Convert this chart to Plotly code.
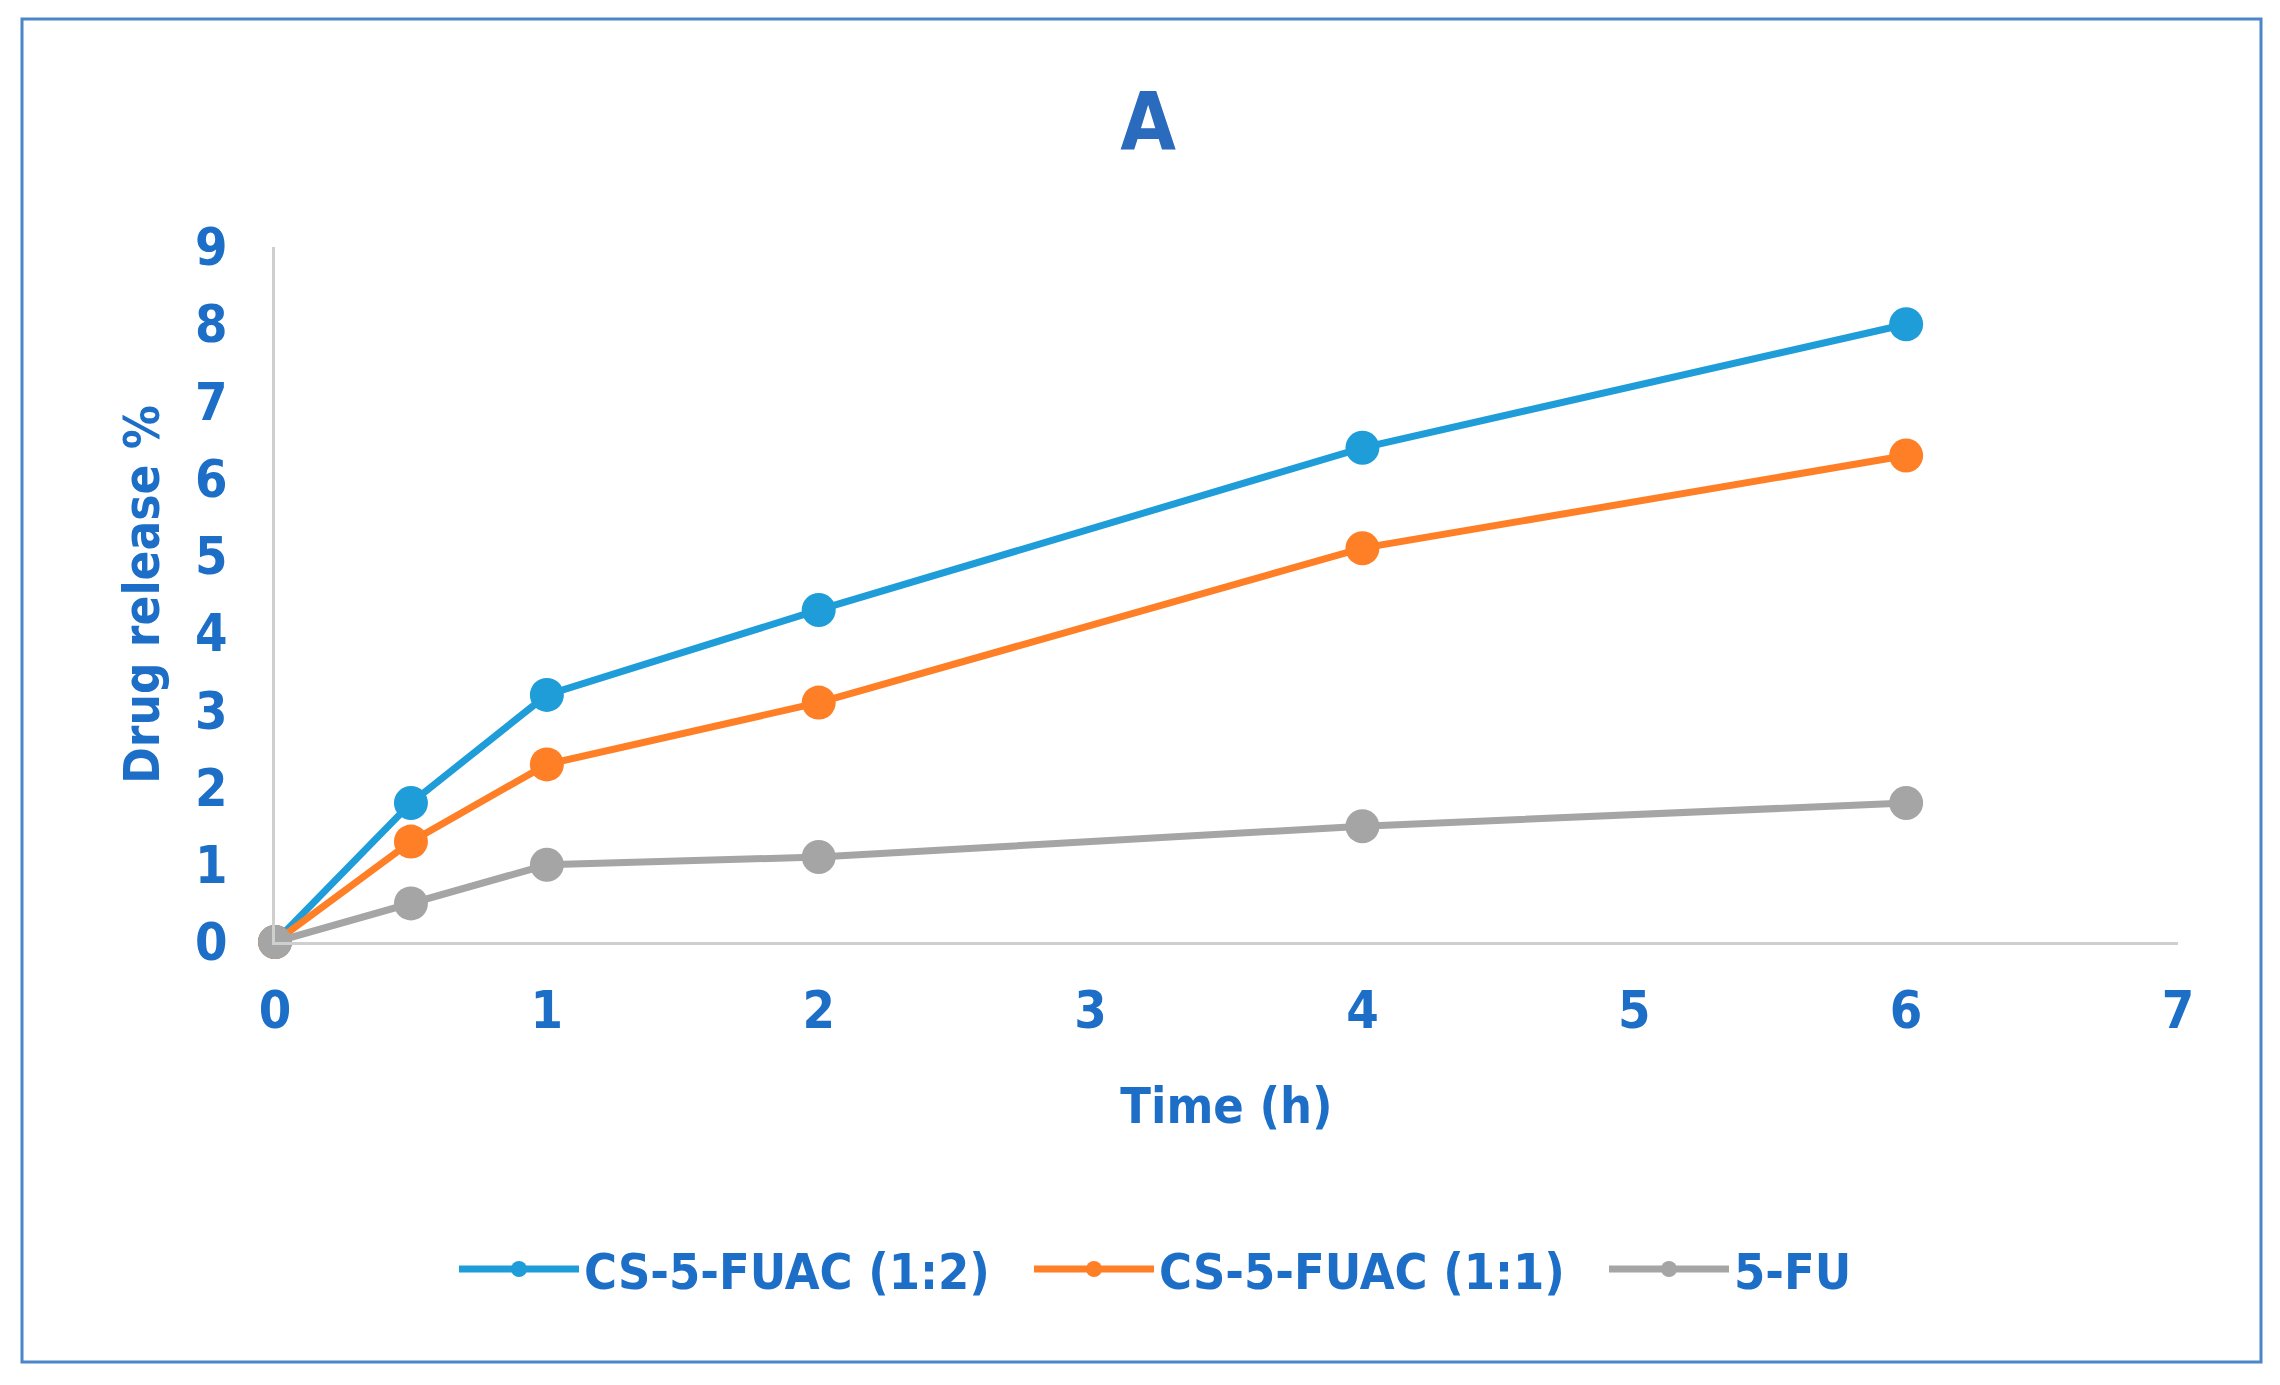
import plotly.graph_objects as go

# data
time_h = [0, 0.5, 1, 2, 4, 6]
release_cs_1_2 = [0, 1.8, 3.2, 4.3, 6.4, 8.0]
release_cs_1_1 = [0, 1.3, 2.3, 3.1, 5.1, 6.3]
release_5fu = [0, 0.5, 1.0, 1.1, 1.5, 1.8]

series_names = ["CS-5-FUAC (1:2)", "CS-5-FUAC (1:1)", "5-FU"]
series_colors = ["#1f9dd9", "#ff7f27", "#a5a5a5"]
x_ticks = [0, 1, 2, 3, 4, 5, 6, 7]
y_ticks = [0, 1, 2, 3, 4, 5, 6, 7, 8, 9]

FONT = "DejaVu Sans Condensed, Liberation Sans Narrow, sans-serif"
TEXT_BLUE = "#1c6ec7"

W, H = 2280, 1385
# page has an 8px body margin, so figure coords = page coords - 8
L, R, T, B = 267, 110, 239, 451


def px_to_paper(px, py):
    """convert figure pixels to paper coords"""
    pw = W - L - R
    ph = H - T - B
    return (px - L) / pw, (H - B - py) / ph


fig = go.Figure()
for name, values, color in zip(series_names,
                               [release_cs_1_2, release_cs_1_1, release_5fu],
                               series_colors):
    fig.add_trace(go.Scatter(
        x=time_h, y=values, name=name, mode="lines+markers",
        line=dict(color=color, width=7),
        marker=dict(color=color, size=34),
        cliponaxis=False,
    ))

# outer blue frame
x0, y0 = px_to_paper(14, 1354)
x1, y1 = px_to_paper(2253, 11)
fig.add_shape(type="rect", xref="paper", yref="paper",
              x0=x0, y0=y0, x1=x1, y1=y1,
              line=dict(color="#4a86c8", width=3), layer="below")

leg_x, leg_y = px_to_paper(446, 1261)

fig.update_layout(
    width=W, height=H,
    margin=dict(l=L, r=R, t=T, b=B),
    paper_bgcolor="white",
    plot_bgcolor="white",
    font=dict(family=FONT, color=TEXT_BLUE),
    title=dict(text="<b>A</b>", x=0.5, xanchor="center",
               y=1 - 114 / H, yanchor="middle",
               font=dict(size=80, color="#2a6bbd", family=FONT)),
    showlegend=True,
    legend=dict(orientation="h", x=leg_x, xanchor="left",
                y=leg_y, yanchor="middle",
                font=dict(size=50, color=TEXT_BLUE, family=FONT, weight="bold"),
                itemwidth=120, entrywidth=440, entrywidthmode="pixels",
                traceorder="normal"),
)
fig.update_xaxes(
    range=[0, 7], tickvals=x_ticks,
    showline=True, linecolor="#cfcfcf", linewidth=3,
    showgrid=False, zeroline=False, ticks="",
    ticklabelstandoff=21,
    tickfont=dict(size=52, color=TEXT_BLUE, family=FONT, weight="bold"),
    title=dict(text="<b>Time (h)</b>", standoff=49,
               font=dict(size=50, color=TEXT_BLUE, family=FONT)),
)
fig.update_yaxes(
    range=[0, 9], tickvals=y_ticks,
    showline=True, linecolor="#cfcfcf", linewidth=3,
    showgrid=False, zeroline=False, ticks="",
    ticklabelstandoff=34,
    tickfont=dict(size=52, color=TEXT_BLUE, family=FONT, weight="bold"),
    title=dict(text="<b>Drug release %</b>", standoff=20,
               font=dict(size=49, color=TEXT_BLUE, family=FONT)),
)

fig.write_html("out.html")
